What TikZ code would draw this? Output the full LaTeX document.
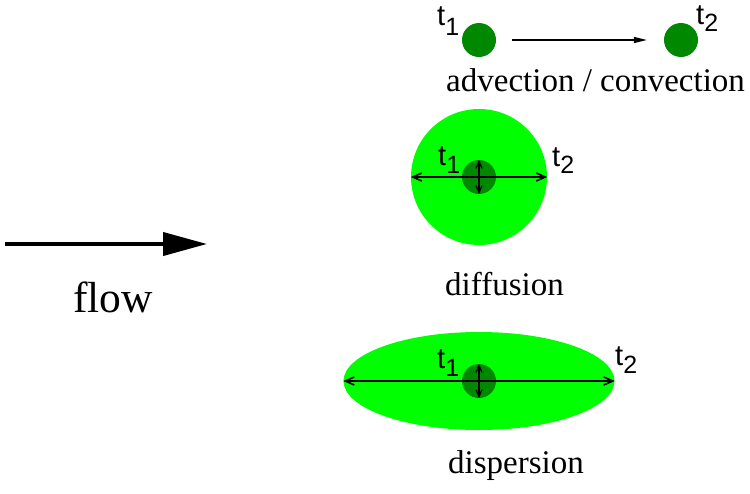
\documentclass[tikz,border=0pt]{standalone}
\usepackage{fontspec}
\setmainfont{Liberation Serif}
\newfontfamily\tsans{Liberation Sans}
\usetikzlibrary{arrows.meta,shapes.geometric}
\definecolor{dkgreen}{RGB}{0,136,0}
\definecolor{ltgreen}{RGB}{0,255,0}
\newcommand{\tsb}[2]{t\raisebox{#2}{\fontsize{25}{30}\selectfont #1}}
\tikzset{
  dot/.style={circle,fill=dkgreen,draw=none,minimum size=34pt,inner sep=0pt},
  big/.style={circle,fill=ltgreen,draw=none,minimum size=136pt,inner sep=0pt},
  oval/.style={ellipse,fill=ltgreen,draw=none,minimum width=271pt,minimum height=98pt,inner sep=0pt},
  lbl/.style={anchor=base west,inner sep=0pt,font=\fontsize{33}{40}\selectfont},
  tlbl/.style={anchor=base west,inner sep=0pt,font=\tsans\fontsize{29}{34}\selectfont},
  dbl/.style={line width=1.6pt,{Straight Barb[length=9pt,width=8pt]}-{Straight Barb[length=9pt,width=8pt]}},
  vdbl/.style={line width=1.2pt,{Straight Barb[length=7pt,width=6pt]}-{Straight Barb[length=7pt,width=6pt]}},
}
\begin{document}
\begin{tikzpicture}[x=1pt,y=-1pt]
\useasboundingbox (0,0) rectangle (750,493);
% top: advection
\node[dot] (a1) at (479,40) {};
\node[dot] (a2) at (681,40) {};
\draw[line width=1.2pt,-{Triangle[length=13pt,width=6pt]},shorten <=16pt,shorten >=17pt] (a1) -- (a2);
\node[tlbl] (ta1) at (437,25) {\tsb{1}{-10pt}};
\node[tlbl] (ta2) at (696,24) {\tsb{2}{-7pt}};
\node[lbl] (adv) at (446,91) {advection / convection};
% diffusion
\node[big] (d) at (479,177) {};
\node[dot] (di) at (479,177) {};
\draw[dbl] (d.west) -- (d.east);
\draw[vdbl] (di.north) -- (di.south);
\node[tlbl] (td1) at (438,165) {\tsb{1}{-8pt}};
\node[tlbl] (td2) at (552,166) {\tsb{2}{-7pt}};
\node[lbl] (dif) at (445,295) {diffusion};
% dispersion
\node[oval] (e) at (479,381) {};
\node[dot] (ei) at (479,381) {};
\draw[dbl] (e.west) -- (e.east);
\draw[vdbl] (ei.north) -- (ei.south);
\node[tlbl] (te1) at (437,368) {\tsb{1}{-8pt}};
\node[tlbl] (te2) at (615,365) {\tsb{2}{-8pt}};
\node[lbl] (dis) at (448,473) {dispersion};
% flow
\coordinate (f1) at (5,244);
\coordinate (f2) at (207,244);
\draw[line width=4pt,-{Triangle[length=44pt,width=23pt]}] (f1) -- (f2);
\node[anchor=base west,inner sep=0pt,font=\fontsize{43.5}{50}\selectfont] (flow) at (73,312) {flow};
\end{tikzpicture}
\end{document}
